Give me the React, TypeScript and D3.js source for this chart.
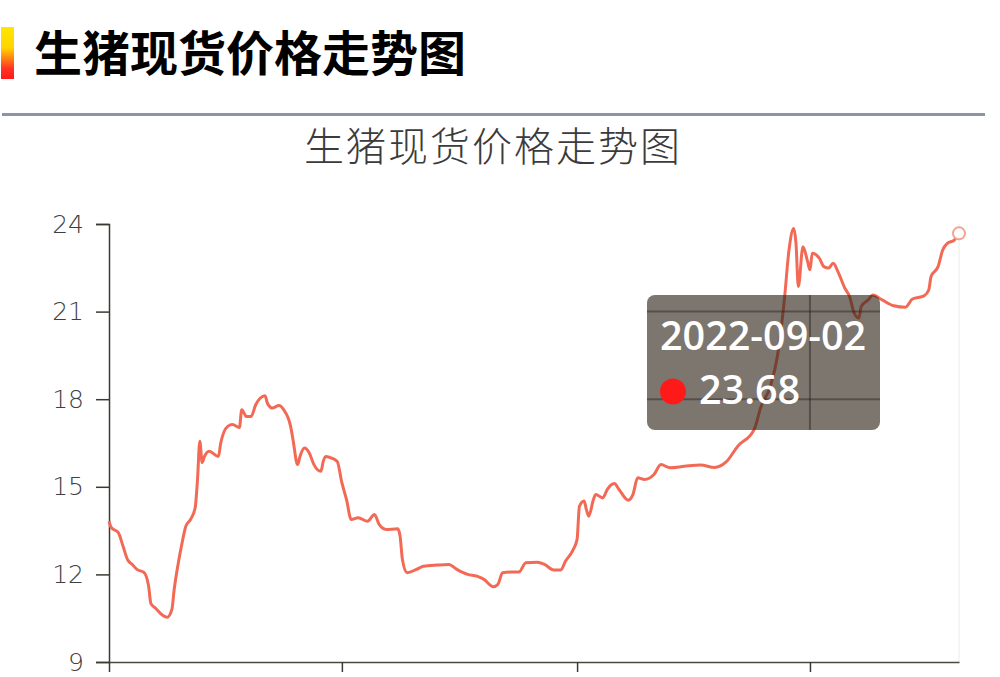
import React, { useEffect, useRef } from 'react';
import * as d3 from 'd3';

const dates = [
  '2021-09-02', '2021-09-03', '2021-09-06', '2021-09-08', '2021-09-10', '2021-09-12', '2021-09-14', '2021-09-17',
  '2021-09-19', '2021-09-20', '2021-09-22', '2021-09-25', '2021-09-27', '2021-09-29', '2021-09-30', '2021-10-02',
  '2021-10-03', '2021-10-05', '2021-10-07', '2021-10-09', '2021-10-10', '2021-10-11', '2021-10-12', '2021-10-13',
  '2021-10-15', '2021-10-19', '2021-10-20', '2021-10-23', '2021-10-25', '2021-10-28', '2021-10-29', '2021-10-31',
  '2021-11-02', '2021-11-04', '2021-11-06', '2021-11-08', '2021-11-09', '2021-11-11', '2021-11-14', '2021-11-16',
  '2021-11-19', '2021-11-20', '2021-11-22', '2021-11-23', '2021-11-25', '2021-11-27', '2021-11-29', '2021-12-02',
  '2021-12-03', '2021-12-04', '2021-12-06', '2021-12-09', '2021-12-11', '2021-12-13', '2021-12-15', '2021-12-18',
  '2021-12-22', '2021-12-25', '2021-12-27', '2021-12-30', '2022-01-04', '2022-01-05', '2022-01-06', '2022-01-08',
  '2022-01-12', '2022-01-15', '2022-01-21', '2022-01-26', '2022-01-29', '2022-02-03', '2022-02-07', '2022-02-10',
  '2022-02-14', '2022-02-16', '2022-02-18', '2022-02-22', '2022-02-25', '2022-02-28', '2022-03-05', '2022-03-08',
  '2022-03-12', '2022-03-15', '2022-03-17', '2022-03-20', '2022-03-22', '2022-03-23', '2022-03-25', '2022-03-26',
  '2022-03-27', '2022-03-29', '2022-03-30', '2022-04-02', '2022-04-04', '2022-04-07', '2022-04-09', '2022-04-13',
  '2022-04-15', '2022-04-17', '2022-04-20', '2022-04-24', '2022-04-27', '2022-05-01', '2022-05-07', '2022-05-14',
  '2022-05-20', '2022-05-25', '2022-05-30', '2022-06-06', '2022-06-09', '2022-06-13', '2022-06-16', '2022-06-19',
  '2022-06-21', '2022-06-23', '2022-06-24', '2022-06-25', '2022-06-27', '2022-06-29', '2022-06-30', '2022-07-01',
  '2022-07-04', '2022-07-06', '2022-07-08', '2022-07-10', '2022-07-12', '2022-07-15', '2022-07-17', '2022-07-19',
  '2022-07-21', '2022-07-22', '2022-07-25', '2022-07-27', '2022-07-31', '2022-08-05', '2022-08-10', '2022-08-13',
  '2022-08-18', '2022-08-20', '2022-08-21', '2022-08-24', '2022-08-26', '2022-08-28', '2022-08-31', '2022-09-02',
];

const prices = [
  13.82, 13.6, 13.43, 12.97, 12.5, 12.34, 12.17, 12.07,
  11.6, 11.0, 10.84, 10.6, 10.53, 10.8, 11.49, 12.5,
  12.92, 13.65, 13.88, 14.28, 15.25, 16.56, 15.83, 16.04,
  16.22, 16.04, 16.51, 17.07, 17.13, 17.03, 17.64, 17.41,
  17.41, 17.81, 18.04, 18.12, 17.87, 17.7, 17.78, 17.64,
  17.07, 16.62, 15.76, 16.04, 16.33, 16.16, 15.76, 15.53,
  15.87, 16.04, 16.0, 15.87, 15.14, 14.56, 13.88, 13.94,
  13.82, 14.05, 13.71, 13.54, 13.56, 13.31, 12.51, 12.06,
  12.17, 12.28, 12.32, 12.34, 12.19, 12.0, 11.94, 11.83,
  11.58, 11.66, 12.06, 12.08, 12.08, 12.4, 12.42, 12.34,
  12.15, 12.15, 12.45, 12.8, 13.2, 14.33, 14.51, 14.22,
  13.99, 14.56, 14.74, 14.62, 14.91, 15.11, 14.91, 14.54,
  14.74, 15.31, 15.25, 15.42, 15.76, 15.65, 15.7, 15.75,
  15.66, 15.85, 16.39, 16.96, 17.75, 18.44, 19.46, 21.4,
  23.11, 23.85, 23.34, 21.86, 23.22, 22.71, 22.43, 23.0,
  22.83, 22.54, 22.49, 22.66, 22.37, 21.8, 21.52, 20.95,
  20.78, 21.17, 21.4, 21.57, 21.4, 21.2, 21.15, 21.43,
  21.54, 21.74, 22.2, 22.54, 23.11, 23.34, 23.45, 23.68,
];

const yTicks = [9, 12, 15, 18, 21, 24];
const xTicks = ['2021-09-02', '2021-12-11', '2022-03-22', '2022-06-30'];

const pageTitle = '生猪现货价格走势图';
const chartTitle = '生猪现货价格走势图';
const tipDate = '2022-09-02';
const tipValue = '23.68';

const App = () => {
  const ref = useRef<SVGSVGElement | null>(null);

  useEffect(() => {
    if (!ref.current) return;
    const svg = d3.select(ref.current);
    svg.selectAll('*').remove();

    const parse = d3.timeParse('%Y-%m-%d');
    const data = dates.map((d, i) => ({ date: parse(d) as Date, value: prices[i] }));

    const margin = { left: 109, right: 41, top: 224, bottom: 15 };
    const width = 1000 - margin.left - margin.right;
    const height = 677 - margin.top - margin.bottom;

    const defs = svg.append('defs');
    const grad = defs.append('linearGradient')
      .attr('id', 'bar-grad')
      .attr('x1', 0).attr('y1', 0).attr('x2', 0).attr('y2', 1);
    grad.append('stop').attr('offset', '0%').attr('stop-color', '#ffe600');
    grad.append('stop').attr('offset', '40%').attr('stop-color', '#ffd400');
    grad.append('stop').attr('offset', '80%').attr('stop-color', '#ff3322');
    grad.append('stop').attr('offset', '100%').attr('stop-color', '#ff1a1a');

    // page header
    svg.append('rect')
      .attr('x', 1).attr('y', 27).attr('width', 13).attr('height', 52)
      .attr('fill', 'url(#bar-grad)');
    svg.append('text')
      .attr('x', 34).attr('y', 71)
      .attr('font-family', '"Noto Sans CJK SC", sans-serif')
      .attr('font-size', 48).attr('font-weight', 700)
      .attr('fill', '#000')
      .text(pageTitle);
    svg.append('line')
      .attr('x1', 2).attr('x2', 985).attr('y1', 114.5).attr('y2', 114.5)
      .attr('stroke', '#8d94aa').attr('stroke-width', 3);

    // chart title
    svg.append('text')
      .attr('x', 493).attr('y', 161)
      .attr('text-anchor', 'middle')
      .attr('font-family', '"Noto Sans CJK SC", sans-serif')
      .attr('font-size', 40).attr('font-weight', 300)
      .attr('letter-spacing', 2)
      .attr('fill', '#3b3b3b')
      .text(chartTitle);

    const chart = svg.append('g')
      .attr('transform', `translate(${margin.left},${margin.top})`);

    const x = d3.scaleTime()
      .domain(d3.extent(data, d => d.date) as [Date, Date])
      .range([0, width]);
    const y = d3.scaleLinear()
      .domain([9, 24])
      .range([height, 0]);

    // faint end-of-series pointer line
    const last = data[data.length - 1];
    chart.append('line')
      .attr('x1', x(last.date)).attr('x2', x(last.date))
      .attr('y1', 0).attr('y2', height)
      .attr('stroke', '#efebe3').attr('stroke-width', 1);

    // axes
    const yAxis = chart.append('g')
      .call(d3.axisLeft(y).tickValues(yTicks).tickSize(13).tickPadding(12));
    yAxis.select('.domain').attr('stroke', '#3a3a33').attr('stroke-width', 1.5);
    yAxis.selectAll('.tick line').attr('stroke', '#3a3a33').attr('stroke-width', 1.5);
    yAxis.selectAll('.tick text')
      .attr('font-family', '"DejaVu Sans", sans-serif')
      .attr('font-size', 25)
      .attr('font-weight', 200)
      .attr('fill', '#3f3f3f');

    const xAxis = chart.append('g')
      .attr('transform', `translate(0,${height})`)
      .call(d3.axisBottom(x)
        .tickValues(xTicks.map(d => parse(d) as Date))
        .tickSize(10)
        .tickSizeOuter(0)
        .tickFormat(() => ''));
    xAxis.select('.domain').attr('stroke', '#4a4a40').attr('stroke-width', 1.5);
    xAxis.selectAll('.tick line').attr('stroke', '#3a3a33').attr('stroke-width', 1.5);

    // price line
    const line = d3.line<{ date: Date; value: number }>()
      .x(d => x(d.date))
      .y(d => y(d.value))
      .curve(d3.curveMonotoneX);

    chart.append('path')
      .datum(data)
      .attr('fill', 'none')
      .attr('stroke', '#f26a55')
      .attr('stroke-width', 3)
      .attr('stroke-linejoin', 'round')
      .attr('d', line);

    chart.append('circle')
      .attr('cx', x(last.date)).attr('cy', y(last.value))
      .attr('r', 6)
      .attr('fill', '#fff')
      .attr('stroke', '#f4a393')
      .attr('stroke-width', 2);

    // tooltip
    const tip = { x: 647, y: 295, w: 233, h: 135 };
    defs.append('clipPath').attr('id', 'tip-clip')
      .append('rect')
      .attr('x', tip.x).attr('y', tip.y).attr('width', tip.w).attr('height', tip.h)
      .attr('rx', 8);

    svg.append('rect')
      .attr('x', tip.x).attr('y', tip.y).attr('width', tip.w).attr('height', tip.h)
      .attr('rx', 8)
      .attr('fill', 'rgba(52,40,30,0.64)');

    // split lines show through the tooltip only
    const grid = svg.append('g').attr('clip-path', 'url(#tip-clip)');
    yTicks.forEach(t => {
      grid.append('line')
        .attr('x1', margin.left).attr('x2', margin.left + width)
        .attr('y1', margin.top + y(t)).attr('y2', margin.top + y(t))
        .attr('stroke', 'rgba(40,32,26,0.45)').attr('stroke-width', 2);
    });
    xTicks.forEach(t => {
      const px = margin.left + x(parse(t) as Date);
      grid.append('line')
        .attr('x1', px).attr('x2', px)
        .attr('y1', margin.top).attr('y2', margin.top + height)
        .attr('stroke', 'rgba(40,32,26,0.45)').attr('stroke-width', 2);
    });

    svg.append('text')
      .attr('x', 660).attr('y', 350)
      .attr('font-family', '"Open Sans", "Noto Sans", sans-serif')
      .attr('font-size', 39.5).attr('font-weight', 600)
      .attr('fill', '#fff')
      .text(tipDate);
    svg.append('circle')
      .attr('cx', 673).attr('cy', 391.5).attr('r', 13)
      .attr('fill', '#ff1a1a');
    svg.append('text')
      .attr('x', 699).attr('y', 404)
      .attr('font-family', '"Open Sans", "Noto Sans", sans-serif')
      .attr('font-size', 39.5).attr('font-weight', 600)
      .attr('fill', '#fff')
      .text(tipValue);
  }, []);

  return (
    <svg
      ref={ref}
      width={1000}
      height={677}
      style={{ position: 'absolute', left: 0, top: 0, background: '#fff' }}
    />
  );
};

export default App;
